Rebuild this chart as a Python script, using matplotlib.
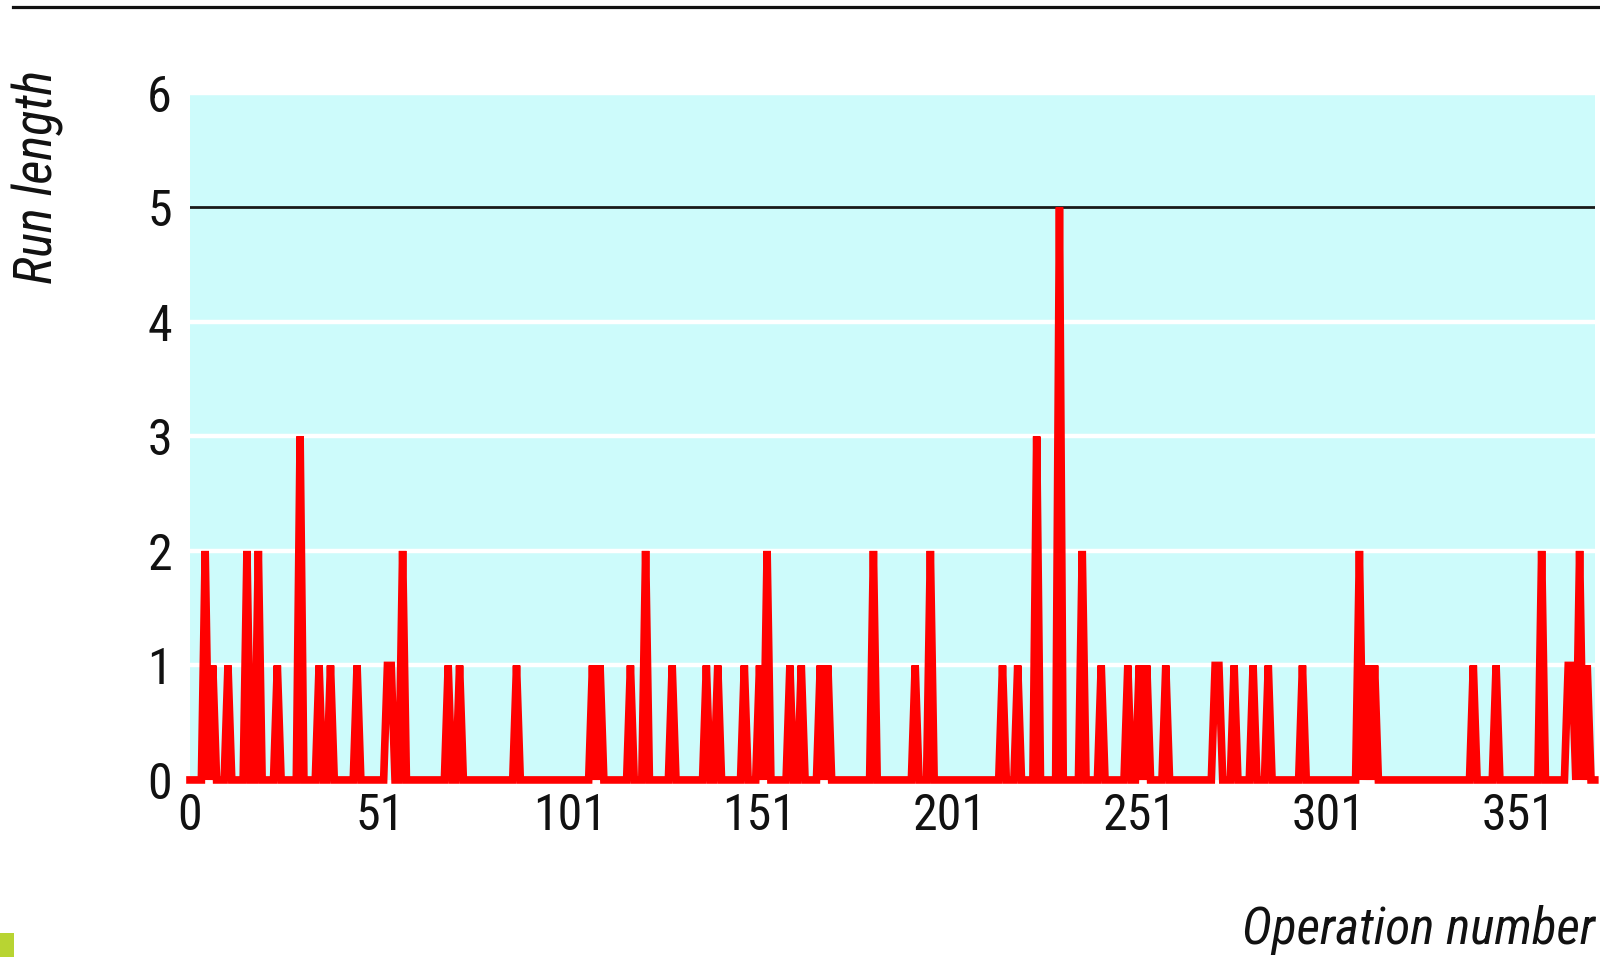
import numpy as np
import matplotlib
matplotlib.use("Agg")
import matplotlib.pyplot as plt
from matplotlib.lines import Line2D
from matplotlib.patches import Rectangle

# operations with a non-zero run length (all other operations are 0)
n_operations = 371
spike_ops = [5, 7, 11, 16, 19, 24, 30, 35, 38, 45, 53, 54, 57,
             69, 72, 87, 107, 109, 117, 121,
             128, 137, 140, 147, 151, 153, 159, 162, 167, 169, 181,
             192, 196, 215, 219, 224, 230, 236, 241,
             248, 251, 253, 258, 271, 272, 276, 281, 285, 294,
             309, 311, 313, 339, 345, 357, 364, 365, 367, 369]
spike_runs = [2, 1, 1, 2, 2, 1, 3, 1, 1, 1, 1, 1, 2,
              1, 1, 1, 1, 1, 1, 2,
              1, 1, 1, 1, 1, 2, 1, 1, 1, 1, 2,
              1, 2, 1, 1, 3, 5, 2, 1,
              1, 1, 1, 1, 1, 1, 1, 1, 1, 1,
              2, 1, 1, 1, 1, 2, 1, 1, 2, 1]

x_ticks = [1, 51, 101, 151, 201, 251, 301, 351]
x_tick_labels = ["0", "51", "101", "151", "201", "251", "301", "351"]
y_ticks = [0, 1, 2, 3, 4, 5, 6]
limit_line = 5

# build the series
operation = np.arange(1, n_operations + 1)
run_length = np.zeros(n_operations)
for op, r in zip(spike_ops, spike_runs):
    run_length[op - 1] = r

fonts = ['Liberation Sans Narrow', 'Roboto Condensed', 'Liberation Sans', 'DejaVu Sans']
plt.rcParams['font.family'] = fonts

fig = plt.figure(figsize=(16, 9.57), dpi=100)
ax = fig.add_axes([0.11875, 0.185, 0.878, 0.718])
ax.set_facecolor('#cdfbfb')

# white grid, black limit line
for y in [1, 2, 3, 4, 6]:
    ax.axhline(y, color='white', lw=3.2, zorder=1)
ax.axhline(limit_line, color='#1a1a1a', lw=2.0, zorder=2)

ax.plot(operation, run_length, color='#ff0000', lw=5.5, zorder=3,
        clip_on=False, solid_joinstyle='miter')

ax.set_xlim(1, n_operations)
ax.set_ylim(0, 6)
ax.set_xticks(x_ticks)
ax.set_xticklabels(x_tick_labels)
ax.set_yticks(y_ticks)
for s in ax.spines.values():
    s.set_visible(False)
ax.tick_params(axis='both', length=0, labelsize=36, colors='#111111')
ax.tick_params(axis='x', pad=9)
ax.tick_params(axis='y', pad=13)

fig.text(0.024, 0.815, "Run length", rotation=90, ha='center', va='center',
         fontsize=38, style='italic', color='#111111')
fig.text(0.997, 0.028, "Operation number", ha='right', va='center',
         fontsize=37, style='italic', color='#111111')

# rule at the top and small marker in the corner
fig.add_artist(Line2D([0.008, 1.0], [0.9927, 0.9927], color='#111111', lw=2.3))
fig.add_artist(Rectangle((0, 0), 0.00875, 0.025, color='#b8d432', lw=0))

fig.savefig("out.png", dpi=100, facecolor='white')
